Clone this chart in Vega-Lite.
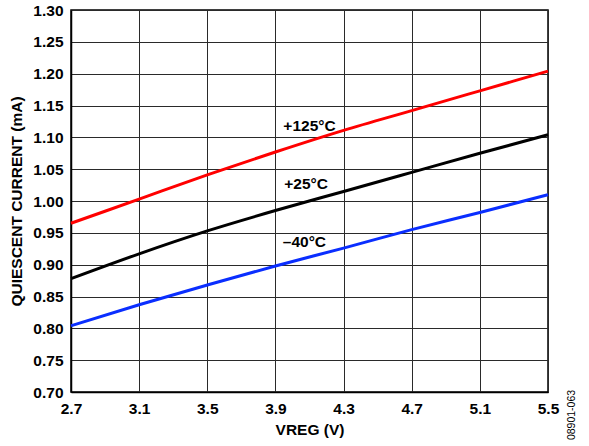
{
  "$schema": "https://vega.github.io/schema/vega-lite/v6.json",
  "autosize": "none",
  "padding": {"left": 71, "top": 10, "right": 41, "bottom": 54},
  "width": 477,
  "height": 382,
  "config": {
    "font": "Liberation Sans",
    "view": {"stroke": "#000000", "strokeWidth": 1.5}
  },
  "datasets": {
    "curves": [
      {"vreg": 2.7, "current": 0.965, "series": "+125°C"},
      {"vreg": 3.1, "current": 1.003, "series": "+125°C"},
      {"vreg": 3.5, "current": 1.041, "series": "+125°C"},
      {"vreg": 3.9, "current": 1.077, "series": "+125°C"},
      {"vreg": 4.3, "current": 1.111, "series": "+125°C"},
      {"vreg": 4.7, "current": 1.142, "series": "+125°C"},
      {"vreg": 5.1, "current": 1.173, "series": "+125°C"},
      {"vreg": 5.5, "current": 1.204, "series": "+125°C"},
      {"vreg": 2.7, "current": 0.878, "series": "+25°C"},
      {"vreg": 3.1, "current": 0.917, "series": "+25°C"},
      {"vreg": 3.5, "current": 0.953, "series": "+25°C"},
      {"vreg": 3.9, "current": 0.985, "series": "+25°C"},
      {"vreg": 4.3, "current": 1.015, "series": "+25°C"},
      {"vreg": 4.7, "current": 1.045, "series": "+25°C"},
      {"vreg": 5.1, "current": 1.075, "series": "+25°C"},
      {"vreg": 5.5, "current": 1.104, "series": "+25°C"},
      {"vreg": 2.7, "current": 0.804, "series": "–40°C"},
      {"vreg": 3.1, "current": 0.837, "series": "–40°C"},
      {"vreg": 3.5, "current": 0.868, "series": "–40°C"},
      {"vreg": 3.9, "current": 0.898, "series": "–40°C"},
      {"vreg": 4.3, "current": 0.926, "series": "–40°C"},
      {"vreg": 4.7, "current": 0.955, "series": "–40°C"},
      {"vreg": 5.1, "current": 0.982, "series": "–40°C"},
      {"vreg": 5.5, "current": 1.010, "series": "–40°C"}
    ],
    "labels": [
      {"vreg": 4.10, "current": 1.118, "series": "+125°C"},
      {"vreg": 4.08, "current": 1.027, "series": "+25°C"},
      {"vreg": 4.07, "current": 0.936, "series": "–40°C"}
    ],
    "note": [
      {"vreg": 5.5, "current": 0.70, "text": "08901-063"}
    ]
  },
  "layer": [
    {
      "data": {"name": "curves"},
      "mark": {"type": "line", "strokeWidth": 3, "interpolate": "monotone"},
      "encoding": {
        "x": {
          "field": "vreg", "type": "quantitative",
          "scale": {"domain": [2.7, 5.5], "nice": false, "zero": false},
          "axis": {
            "values": [2.7, 3.1, 3.5, 3.9, 4.3, 4.7, 5.1, 5.5], "tickCount": 20, "format": ".1f", "title": "VREG (V)",
            "labelFont": "Liberation Sans", "labelFontWeight": "bold", "labelFontSize": 15.5, "labelColor": "#000000",
            "titleFont": "Liberation Sans", "titleFontWeight": "bold", "titleFontSize": 15.5, "titleColor": "#000000",
            "labelPadding": 9, "titlePadding": 6, "labelFlush": false, "labelOverlap": false, "labelBound": false,
            "domainColor": "#000000", "domainWidth": 1.5, "grid": true, "gridColor": "#2a2a2a", "gridWidth": 1, "gridOpacity": 1, "ticks": false
          }
        },
        "y": {
          "field": "current", "type": "quantitative",
          "scale": {"domain": [0.70, 1.30], "nice": false, "zero": false},
          "axis": {
            "values": [0.70, 0.75, 0.80, 0.85, 0.90, 0.95, 1.00, 1.05, 1.10, 1.15, 1.20, 1.25, 1.30], "tickCount": 20, "format": ".2f", "title": "QUIESCENT CURRENT (mA)",
            "labelFont": "Liberation Sans", "labelFontWeight": "bold", "labelFontSize": 15.5, "labelColor": "#000000",
            "titleFont": "Liberation Sans", "titleFontWeight": "bold", "titleFontSize": 15.5, "titleColor": "#000000",
            "labelPadding": 8, "titlePadding": 8, "labelFlush": false, "labelOverlap": false, "labelBound": false,
            "domainColor": "#000000", "domainWidth": 1.5, "grid": true, "gridColor": "#2a2a2a", "gridWidth": 1, "gridOpacity": 1, "ticks": false
          }
        },
        "color": {
          "field": "series", "type": "nominal",
          "scale": {"domain": ["+125°C", "+25°C", "–40°C"], "range": ["#ff0000", "#000000", "#0a2eff"]},
          "legend": null
        }
      }
    },
    {
      "data": {"name": "labels"},
      "mark": {"type": "text", "font": "Liberation Sans", "fontWeight": "bold", "fontSize": 15.5, "color": "#000000", "align": "center", "baseline": "middle"},
      "encoding": {
        "x": {"field": "vreg", "type": "quantitative"},
        "y": {"field": "current", "type": "quantitative"},
        "text": {"field": "series"}
      }
    },
    {
      "data": {"name": "note"},
      "mark": {"type": "text", "font": "Liberation Sans", "fontSize": 10.5, "color": "#000000", "angle": 270, "align": "center", "baseline": "middle", "dx": -23, "dy": 24, "clip": false},
      "encoding": {
        "x": {"field": "vreg", "type": "quantitative"},
        "y": {"field": "current", "type": "quantitative"},
        "text": {"field": "text"}
      }
    }
  ]
}
